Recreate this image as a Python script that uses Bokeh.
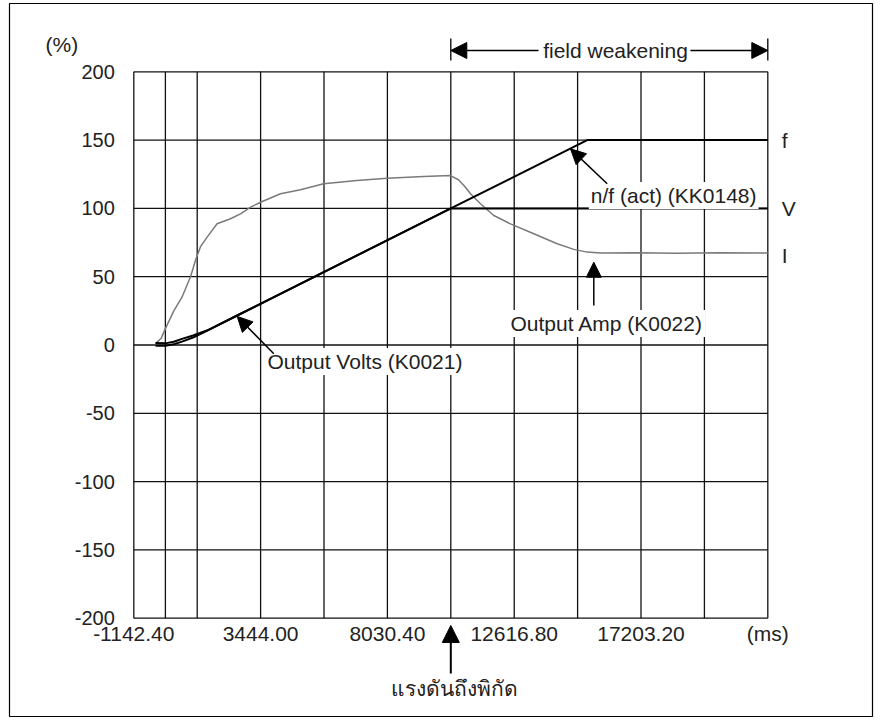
from bokeh.plotting import figure
from bokeh.models import Range1d, FixedTicker, Label, Arrow, NormalHead
from bokeh.embed import file_html
from bokeh.resources import INLINE

# ---------------- data ----------------
x_grid = [-1142.4, 0.0, 1150.8, 3444.0, 5737.2, 8030.4, 10323.6, 12616.8, 14910.0,
          17203.2, 19496.4, 21789.6]
x_label_ticks = [-1142.4, 3444.0, 8030.4, 12616.8, 17203.2, 21789.6]
x_label_text = ["-1142.40", "3444.00", "8030.40", "12616.80", "17203.20", "(ms)"]
y_ticks = [-200, -150, -100, -50, 0, 50, 100, 150, 200]
y_label_text = ["-200", "-150", "-100", "-50", "0", "50", "100", "150", "200"]

# n/f (act) (KK0148)  -> f
f_x = [-357, 0, 300, 600, 1000, 1500, 2597, 10323.6, 15257, 21789.6]
f_y = [1.5, 1.2, 2.4, 4.5, 7.0, 10.6, 21.6, 100, 150, 150]

# Output Volts (K0021) -> V
v_x = [-357, 0, 300, 600, 1000, 1500, 2597, 10323.6, 21789.6]
v_y = [-0.5, -0.5, 0.5, 2.5, 5.5, 10.4, 21.6, 100, 100]

# Output Amp (K0022) -> I
i_x = [-357, -150, 0, 305, 600, 910, 1090, 1270, 1510, 1870, 2356, 2717, 3080,
       3440, 4165, 4887, 5722, 6930, 8020, 9340, 10312, 10600, 10830, 11036,
       11398, 11879, 12483, 13326, 14172, 14773, 15257, 15738, 17000, 18500,
       20000, 21789.6]
i_y = [1, 5, 12, 25, 35, 50, 62, 72, 79, 88.8, 92.4, 96, 100.9, 104.5, 110.7,
       113.6, 118, 120.4, 122.1, 123.4, 124.0, 121.0, 116, 110.7, 103.4, 94.8,
       88.7, 81.4, 74.1, 70, 68, 67.3, 67.5, 67.2, 67.6, 67.3]

# annotation anchors (data units)
volts_arrow = (3922, -6.4, 2597, 20.9)
amp_arrow = (15496, 28.9, 15496, 60.6)
nf_arrow = (15980, 118, 14653, 143.6)
rated_arrow = (10323.6, -240.5, 10323.6, -205.3)
fw_y = 215.6
fw_left = (13495, 10323.6)
fw_right = (18990, 21789.6)
fw_bar_y = (208.3, 224.4)

FONT = "Liberation Sans"
FS = "21px"
TXT = "#222222"

# the frame is the outer bordered box; the chart box lies inside it
p = figure(frame_width=863, frame_height=713,
           min_border_left=9, min_border_right=9, min_border_top=3,
           min_border_bottom=8, output_backend="svg", toolbar_location=None,
           x_range=Range1d(-5638.4, 25576.3), y_range=Range1d(-271.96, 250.0))

p.outline_line_color = "black"
p.outline_line_width = 1.2
p.background_fill_color = "white"
p.border_fill_color = "white"
p.grid.visible = False

# grid lines of the chart box
xmin, xmax = x_grid[0], x_grid[-1]
ymin, ymax = y_ticks[0], y_ticks[-1]
p.segment(x0=x_grid, x1=x_grid, y0=[ymin] * len(x_grid), y1=[ymax] * len(x_grid),
          line_color="#111111", line_width=1.3)
p.segment(x0=[xmin] * len(y_ticks), x1=[xmax] * len(y_ticks), y0=y_ticks, y1=y_ticks,
          line_color="#111111", line_width=1.3)

# axes placed on the chart box edges
p.xaxis.fixed_location = ymin
p.yaxis.fixed_location = xmin
p.xaxis.ticker = FixedTicker(ticks=x_label_ticks)
p.xaxis.major_label_overrides = {k: v for k, v in zip(x_label_ticks, x_label_text)}
p.yaxis.ticker = FixedTicker(ticks=y_ticks)
p.yaxis.major_label_overrides = {k: v for k, v in zip(y_ticks, y_label_text)}
for ax in (p.xaxis, p.yaxis):
    ax.axis_line_color = None
    ax.major_tick_line_color = None
    ax.minor_tick_line_color = None
    ax.major_tick_in = 0
    ax.major_tick_out = 0
    ax.major_label_text_font = FONT
    ax.major_label_text_color = TXT
p.xaxis.major_label_text_font_size = FS
p.yaxis.major_label_text_font_size = "20px"
p.xaxis.major_label_standoff = 4
p.yaxis.major_label_standoff = 19

# curves
p.line(i_x, i_y, line_color="#7a7a7a", line_width=1.5)
p.line(v_x, v_y, line_color="black", line_width=2)
p.line(f_x, f_y, line_color="black", line_width=2)


def lab(x, y, text, align="left", xo=0, yo=0, bg=None):
    l = Label(x=x, y=y, text=text, text_font=FONT, text_font_size=FS,
              text_color=TXT, text_align=align, text_baseline="middle",
              x_offset=xo, y_offset=yo)
    if bg:
        l.background_fill_color = bg
        l.padding = 2
    p.add_layout(l)


def arrow(x0, y0, x1, y1, size=15, w=1.5):
    p.add_layout(Arrow(end=NormalHead(size=size, fill_color="black", line_color="black"),
                       x_start=x0, y_start=y0, x_end=x1, y_end=y1,
                       line_color="black", line_width=w))


# annotations inside chart
lab(3621, -12.1, "Output Volts (K0021)", bg="white")
lab(12411, 15.7, "Output Amp (K0022)", bg="white")
lab(15315, 109.4, "n/f (act) (KK0148)", bg="white")
arrow(*volts_arrow)
arrow(*amp_arrow)
arrow(*nf_arrow)

# right side labels
lab(xmax, 150, "f", xo=14)
lab(xmax, 100, "V", xo=14)
lab(xmax, 65.5, "I", xo=14)

# (%) label
lab(xmin, 220, "(%)", align="center", xo=-72)

# field weakening
lab(16281, fw_y, "field weakening", align="center")
arrow(fw_left[0], fw_y, fw_left[1], fw_y, size=16)
arrow(fw_right[0], fw_y, fw_right[1], fw_y, size=16)
for bx in (fw_left[1], fw_right[1]):
    p.add_layout(Arrow(end=None, x_start=bx, y_start=fw_bar_y[0], x_end=bx,
                       y_end=fw_bar_y[1], line_color="black", line_width=1.3))

# rated voltage arrow + Thai text
arrow(*rated_arrow, size=17, w=2)
lab(10470, -251.4, "แรงดันถึงพิกัด", align="center")

open("out.html", "w").write(file_html(p, INLINE))
